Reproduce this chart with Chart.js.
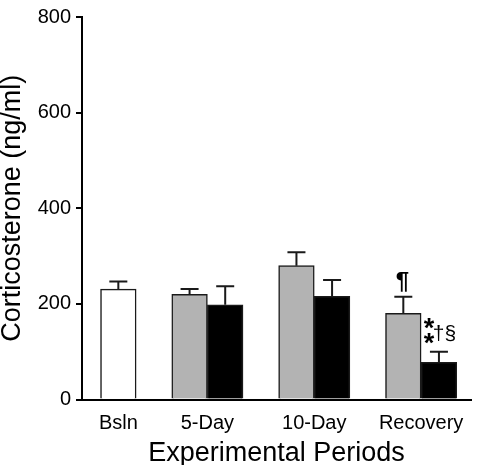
<!DOCTYPE html>
<html lang="en">
<head>
  <meta charset="UTF-8" />
  <title>Corticosterone</title>
  <script src="https://cdn.jsdelivr.net/npm/chart.js"></script>
  <style>
    body { margin: 0; background: #fff; }
    canvas { display: block; }
  </style>
</head>
<body>
<canvas id="chart" width="477" height="465"></canvas>
<script>
  // data
  const periods = ['Bsln', '5-Day', '10-Day', 'Recovery'];
  const baseMean = [231, null, null, null];
  const baseSem = [16, null, null, null];
  const grayMean = [null, 220, 280, 180];
  const graySem = [null, 11, 28, 35];
  const blackMean = [null, 198, 216, 78];
  const blackSem = [null, 39, 34, 22];
  const grayNotes = ['', '', '', '¶'];
  const blackNotes = ['', '', '', '**†§'];
  const yTicks = [0, 200, 400, 600, 800];

  // lay the bars out in slots: bars of one period side by side, one empty slot between periods
  const baseData = [], grayData = [], blackData = [], tickPos = [];
  let s = 0;
  periods.forEach((p, i) => {
    const start = s;
    if (baseMean[i] != null) { baseData.push({ x: s, y: baseMean[i], err: baseSem[i] }); s++; }
    if (grayMean[i] != null) { grayData.push({ x: s, y: grayMean[i], err: graySem[i], note: grayNotes[i] }); s++; }
    if (blackMean[i] != null) { blackData.push({ x: s, y: blackMean[i], err: blackSem[i], note: blackNotes[i] }); s++; }
    tickPos.push((start + s - 1) / 2);
    s++;
  });

  const errorBars = {
    id: 'errorBars',
    afterDatasetsDraw(chart) {
      const ctx = chart.ctx;
      const y = chart.scales.y;
      ctx.save();
      ctx.strokeStyle = '#1a1a1a';
      ctx.lineWidth = 2;
      chart.data.datasets.forEach((ds, di) => {
        chart.getDatasetMeta(di).data.forEach((bar, j) => {
          const d = ds.data[j];
          const top = y.getPixelForValue(d.y + d.err);
          ctx.beginPath();
          ctx.moveTo(bar.x, bar.y);
          ctx.lineTo(bar.x, top);
          ctx.moveTo(bar.x - 9, top);
          ctx.lineTo(bar.x + 9, top);
          ctx.stroke();
          if (d.note) drawNote(ctx, d.note, bar.x, top);
        });
      });
      ctx.restore();
    }
  };

  // put a glyph so that its ink box is centred on (cx, cy)
  function glyph(ctx, t, font, cx, cy) {
    ctx.font = font;
    const m = ctx.measureText(t);
    const w = m.actualBoundingBoxLeft + m.actualBoundingBoxRight;
    const yb = cy + (m.actualBoundingBoxAscent - m.actualBoundingBoxDescent) / 2;
    ctx.fillText(t, cx - w / 2 + m.actualBoundingBoxLeft, yb);
  }

  function drawNote(ctx, note, x, top) {
    ctx.fillStyle = '#000';
    ctx.textAlign = 'left';
    ctx.textBaseline = 'alphabetic';
    if (note === '¶') {
      glyph(ctx, '¶', 'bold 24px "Liberation Sans", Arial, sans-serif', x - 1, top - 14.7);
    } else {
      glyph(ctx, '*', 'bold 27px "Liberation Sans", Arial, sans-serif', x - 9.6, top - 27.7);
      glyph(ctx, '*', 'bold 27px "Liberation Sans", Arial, sans-serif', x - 9.6, top - 12.7);
      glyph(ctx, '†§', '21px "Liberation Sans", Arial, sans-serif', x + 5.6, top - 17.7);
    }
  }

  Chart.defaults.font.family = '"Liberation Sans", Arial, sans-serif';
  Chart.defaults.color = '#000';

  new Chart(document.getElementById('chart'), {
    type: 'bar',
    data: {
      datasets: [
        { data: baseData, backgroundColor: '#ffffff' },
        { data: grayData, backgroundColor: '#b3b3b3' },
        { data: blackData, backgroundColor: '#000000' }
      ]
    },
    options: {
      responsive: false,
      animation: false,
      devicePixelRatio: 1,
      layout: { padding: { top: 10, right: 6, left: 0, bottom: 0 } },
      datasets: {
        bar: {
          grouped: false,
          barPercentage: 1,
          categoryPercentage: 1,
          borderColor: '#1a1a1a',
          borderWidth: 1.5
        }
      },
      plugins: {
        legend: { display: false },
        tooltip: { enabled: false }
      },
      scales: {
        x: {
          type: 'linear',
          offset: false,
          min: -1.02,
          max: 9.9,
          grid: { display: false, drawTicks: false },
          border: { display: true, color: '#000', width: 2 },
          afterBuildTicks: (sc) => { sc.ticks = tickPos.map(v => ({ value: v })); },
          afterFit: (sc) => { sc.height = 65.5; },
          ticks: {
            autoSkip: false,
            maxRotation: 0,
            padding: 12,
            font: { size: 20 },
            callback: (v, i) => periods[i]
          },
          title: {
            display: true,
            text: 'Experimental Periods',
            font: { size: 27, lineHeight: 0.845 },
            padding: 0
          }
        },
        y: {
          min: 0,
          max: 800,
          afterBuildTicks: (sc) => { sc.ticks = yTicks.map(v => ({ value: v })); },
          afterFit: (sc) => { sc.width = 82; },
          grid: { drawOnChartArea: false, drawTicks: true, tickLength: 6, color: '#000', lineWidth: 2 },
          border: { display: true, color: '#000', width: 2 },
          ticks: { padding: 5, font: { size: 20 } },
          title: {
            display: true,
            text: 'Corticosterone (ng/ml)',
            font: { size: 27, lineHeight: 0.93 },
            padding: 0
          }
        }
      }
    },
    plugins: [errorBars]
  });
</script>
</body>
</html>
